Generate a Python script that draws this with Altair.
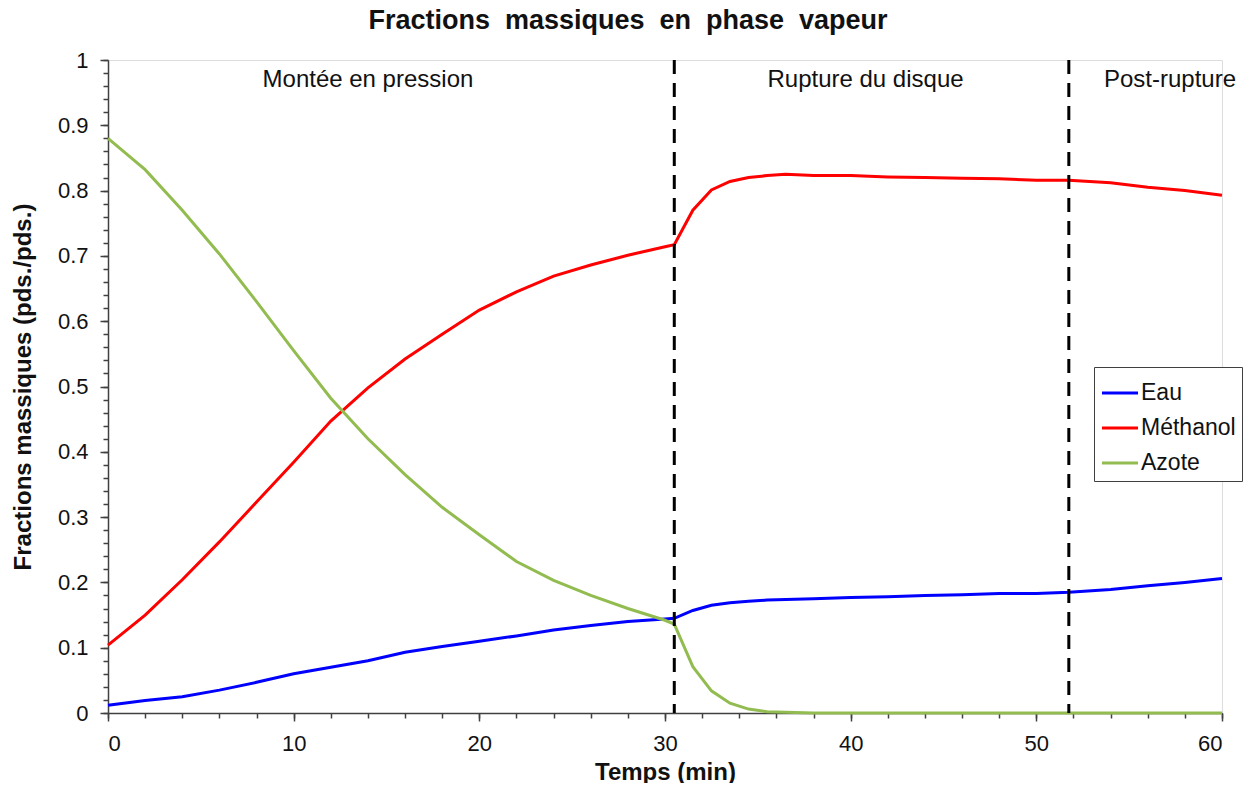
import altair as alt
import pandas as pd

FONT = "Liberation Sans"

temps = [0, 2, 4, 6, 8, 10, 12, 14, 16, 18, 20, 22, 24, 26, 28, 30, 30.5, 31.5, 32.5,
         33.5, 34.5, 35.5, 36.5, 38, 40, 42, 44, 46, 48, 50, 51.75, 54, 56, 58, 60]

eau = [0.012, 0.019, 0.025, 0.035, 0.047, 0.060, 0.070, 0.080, 0.093, 0.102, 0.110,
       0.118, 0.127, 0.134, 0.140, 0.144, 0.145, 0.157, 0.165, 0.169, 0.171, 0.173,
       0.174, 0.175, 0.177, 0.178, 0.180, 0.181, 0.183, 0.183, 0.185, 0.189, 0.195,
       0.200, 0.206]

methanol = [0.104, 0.150, 0.204, 0.262, 0.323, 0.384, 0.447, 0.498, 0.542, 0.580, 0.617,
            0.645, 0.669, 0.686, 0.701, 0.714, 0.717, 0.770, 0.801, 0.814, 0.820, 0.823,
            0.825, 0.823, 0.823, 0.821, 0.820, 0.819, 0.818, 0.816, 0.816, 0.812, 0.805,
            0.800, 0.793]

azote = [0.880, 0.832, 0.770, 0.703, 0.630, 0.555, 0.482, 0.420, 0.365, 0.315, 0.273,
         0.232, 0.203, 0.180, 0.160, 0.142, 0.136, 0.071, 0.034, 0.015, 0.006, 0.002,
         0.001, 0.0, 0.0, 0.0, 0.0, 0.0, 0.0, 0.0, 0.0, 0.0, 0.0, 0.0, 0.0]

series_names = ["Eau", "Méthanol", "Azote"]
series_colors = ["#0000FF", "#FF0000", "#92BC50"]

phase_limits = [30.5, 51.75]
phase_labels = ["Montée en pression", "Rupture du disque", "Post-rupture"]
phase_label_t = [14.0, 40.8, 57.2]
phase_label_y = [0.969, 0.969, 0.969]

x_major = [0, 10, 20, 30, 40, 50, 60]
x_minor = list(range(0, 61, 2))
y_major = [round(i * 0.1, 1) for i in range(11)]
y_minor = [round(i * 0.02, 2) for i in range(51)]

rows = []
for name, vals in zip(series_names, [eau, methanol, azote]):
    for t, v in zip(temps, vals):
        rows.append({"t": t, "v": v, "serie": name})
df = pd.DataFrame(rows)

df_rules = pd.DataFrame({"t": phase_limits})
df_text = pd.DataFrame({"t": phase_label_t, "v": phase_label_y, "label": phase_labels})

xscale = alt.Scale(domain=[0, 60], nice=False)
yscale = alt.Scale(domain=[0, 1], nice=False)

axis_common = dict(domainColor="#404040", domainWidth=1.5, tickColor="#404040",
                   tickWidth=1.5, tickSize=8, labelFont=FONT, labelFontSize=22,
                   labelColor="#111", titleFont=FONT, titleFontWeight="bold",
                   titleColor="#111", grid=False)

lines = alt.Chart(df).mark_line(strokeWidth=3).encode(
    x=alt.X("t:Q", scale=xscale,
            axis=alt.Axis(values=x_major, title="Temps (min)", titleFontSize=24,
                          titlePadding=6, labelPadding=12, orient="bottom",
                          **axis_common)),
    y=alt.Y("v:Q", scale=yscale,
            axis=alt.Axis(values=y_major, title="Fractions massiques (pds./pds.)",
                          titleFontSize=24, titlePadding=22, labelPadding=12,
                          format="~g", orient="left", **axis_common)),
    color=alt.Color("serie:N",
                    scale=alt.Scale(domain=series_names, range=series_colors),
                    sort=series_names,
                    legend=alt.Legend(title=None, orient="none", legendX=986, legendY=307,
                                      strokeColor="#404040", padding=6,
                                      symbolType="stroke", symbolStrokeWidth=3,
                                      symbolSize=1300, labelFont=FONT, labelFontSize=23,
                                      labelColor="#111", labelOffset=1, rowPadding=3,
                                      fillColor="white")),
    order=alt.Order("t:Q"),
)

minor = alt.Chart(df).mark_point(opacity=0).encode(
    x=alt.X("t:Q", scale=xscale,
            axis=alt.Axis(values=x_minor, labels=False, title=None, domain=False,
                          tickSize=5, tickWidth=1.5, tickColor="#404040", grid=False,
                          orient="bottom")),
    y=alt.Y("v:Q", scale=yscale,
            axis=alt.Axis(values=y_minor, labels=False, title=None, domain=False,
                          tickSize=5, tickWidth=1.5, tickColor="#404040", grid=False,
                          orient="left")),
)

rules = alt.Chart(df_rules).mark_rule(color="black", strokeWidth=3,
                                      strokeDash=[14, 9]).encode(
    x=alt.X("t:Q", scale=xscale, axis=None)
)

texts = alt.Chart(df_text).mark_text(font=FONT, fontSize=24, color="#111",
                                     align="center", baseline="middle").encode(
    x=alt.X("t:Q", scale=xscale, axis=None),
    y=alt.Y("v:Q", scale=yscale, axis=None),
    text="label:N",
)

chart = alt.layer(minor, lines, rules, texts).resolve_axis(
    x="independent", y="independent"
).properties(
    width=1114,
    height=653,
    title=alt.TitleParams("Fractions \u00a0massiques \u00a0en \u00a0phase \u00a0vapeur",
                          font=FONT, fontSize=27, fontWeight="bold", color="#111",
                          anchor="middle", offset=14, dx=-37),
    autosize=alt.AutoSizeParams(type="none"),
    padding={"left": 100, "top": 52, "right": 23, "bottom": 70},
).configure_view(stroke=None).configure(background="white")

chart.save("out.html", embed_options={"renderer": "svg", "actions": False})
